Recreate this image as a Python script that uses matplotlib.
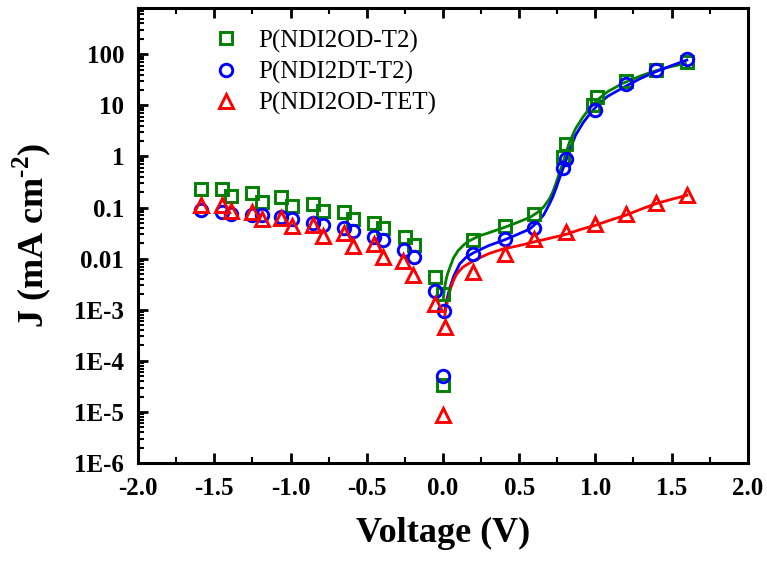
import matplotlib
matplotlib.use('Agg')
import matplotlib.pyplot as plt
from matplotlib.ticker import FixedLocator, NullFormatter, LogLocator

# measured points
v_t2 = [-1.59, -1.45, -1.39, -1.25, -1.19, -1.06, -0.99, -0.85, -0.79, -0.65, -0.59,
        -0.45, -0.39, -0.25, -0.19, -0.05, 0.0, 0.0, 0.2, 0.41, 0.60, 0.79, 0.81,
        0.985, 1.01, 1.2, 1.40, 1.6]
j_t2 = [0.23, 0.23, 0.17, 0.19, 0.13, 0.16, 0.107, 0.115, 0.085, 0.082, 0.06,
        0.05, 0.039, 0.026, 0.0186, 0.0043, 0.002, 3.4e-5, 0.0227, 0.043, 0.076, 0.99, 1.76,
        10.3, 14.7, 29.7, 50, 70]

v_dt = [-1.59, -1.45, -1.39, -1.25, -1.19, -1.06, -0.99, -0.85, -0.785, -0.65, -0.59,
        -0.45, -0.39, -0.255, -0.19, -0.05, 0.007, 0.0, 0.2, 0.41, 0.60, 0.79, 0.81,
        1.0, 1.2, 1.40, 1.6]
j_dt = [0.089, 0.081, 0.076, 0.071, 0.071, 0.065, 0.059, 0.050, 0.045, 0.039, 0.034,
        0.027, 0.023, 0.0148, 0.0107, 0.0023, 0.00095, 5.1e-5, 0.0124, 0.0245, 0.040, 0.59, 0.88,
        8.2, 25.6, 49, 79]

v_tet = [-1.59, -1.45, -1.39, -1.25, -1.19, -1.06, -0.99, -0.85, -0.79, -0.65, -0.59,
         -0.45, -0.39, -0.26, -0.195, -0.05, 0.013, 0.0, 0.2, 0.41, 0.60, 0.81,
         1.0, 1.2, 1.4, 1.6]
j_tet = [0.11, 0.11, 0.085, 0.082, 0.060, 0.063, 0.043, 0.046, 0.028, 0.032, 0.018,
         0.019, 0.011, 0.0091, 0.0047, 0.0013, 4.6e-4, 8.7e-6, 0.0054, 0.0123, 0.0245, 0.033,
         0.048, 0.074, 0.12, 0.174]

# fitted curves
fv_t2 = [0.003, 0.01, 0.02, 0.03, 0.046, 0.07, 0.10, 0.14, 0.177, 0.24, 0.30, 0.395, 0.48,
         0.57, 0.62, 0.66, 0.70, 0.72, 0.74, 0.76, 0.78, 0.80, 0.83, 0.87, 0.92, 0.97, 1.02,
         1.08, 1.18, 1.29, 1.38, 1.47, 1.59]
fj_t2 = [0.0017, 0.0026, 0.0038, 0.005, 0.0068, 0.0105, 0.0144, 0.019, 0.0227, 0.028, 0.032,
         0.040, 0.050, 0.064, 0.08, 0.102, 0.15, 0.20, 0.29, 0.44, 0.65, 1.0, 1.9, 3.5, 6.0,
         9.3, 13.3, 18.5, 27, 37, 46, 55, 66]

fv_dt = [0.013, 0.02, 0.03, 0.046, 0.07, 0.11, 0.15, 0.2, 0.3, 0.395, 0.48, 0.57, 0.62,
         0.66, 0.70, 0.72, 0.74, 0.76, 0.78, 0.80, 0.83, 0.87, 0.92, 0.97, 1.02, 1.08,
         1.2, 1.3, 1.4, 1.5, 1.6]
fj_dt = [0.00095, 0.0013, 0.0018, 0.0027, 0.0045, 0.0079, 0.0105, 0.013, 0.018, 0.0227,
         0.029, 0.038, 0.052, 0.071, 0.12, 0.16, 0.23, 0.34, 0.50, 0.72, 1.3, 2.6, 4.6, 7.2,
         10.5, 15, 23.8, 34, 46, 60, 77]

fv_tet = [0.013, 0.02, 0.035, 0.05, 0.07, 0.09, 0.13, 0.2, 0.3, 0.395, 0.5, 0.59, 0.7,
          0.81, 0.9, 1.0, 1.1, 1.2, 1.3, 1.4, 1.5, 1.6]
fj_tet = [0.0008, 0.0011, 0.0017, 0.0026, 0.0038, 0.005, 0.0068, 0.0091, 0.0125, 0.0155,
          0.018, 0.021, 0.025, 0.030, 0.037, 0.045, 0.057, 0.071, 0.093, 0.12, 0.145, 0.174]

labels = ['P(NDI2OD-T2)', 'P(NDI2DT-T2)', 'P(NDI2OD-TET)']
colors = ['#008000', '#0000ff', '#ff0000']

plt.rcParams['font.family'] = ['Liberation Serif', 'DejaVu Serif']
plt.rcParams['mathtext.fontset'] = 'custom'
plt.rcParams['mathtext.rm'] = 'Liberation Serif:bold'
plt.rcParams['mathtext.bf'] = 'Liberation Serif:bold'

fig = plt.figure(figsize=(7.67, 5.63), dpi=100)
ax = fig.add_axes([0.18, 0.1776, 0.795, 0.808])

ax.plot(fv_t2, fj_t2, color=colors[0], lw=2.0)
ax.plot(fv_dt, fj_dt, color=colors[1], lw=2.0)
ax.plot(fv_tet, fj_tet, color=colors[2], lw=2.0)

ax.plot(v_t2, j_t2, 's', ms=8.5, mfc='none', mec=colors[0], mew=2.1, ls='none', label=labels[0])
ax.plot(v_dt, j_dt, 'o', ms=9, mfc='none', mec=colors[1], mew=2.1, ls='none', label=labels[1])
ax.plot(v_tet, j_tet, '^', ms=10, mfc='none', mec=colors[2], mew=2.1, ls='none', label=labels[2])

ax.set_yscale('log')
ax.set_xlim(-2.0, 2.0)
ax.set_ylim(1e-6, 800)

ax.set_xticks([-2.0, -1.5, -1.0, -0.5, 0.0, 0.5, 1.0, 1.5, 2.0])
ax.set_xticklabels(['-2.0', '-1.5', '-1.0', '-0.5', '0.0', '0.5', '1.0', '1.5', '2.0'])
ax.xaxis.set_minor_locator(FixedLocator([-1.75, -1.25, -0.75, -0.25, 0.25, 0.75, 1.25, 1.75]))
ax.set_yticks([1e-6, 1e-5, 1e-4, 1e-3, 1e-2, 1e-1, 1, 10, 100])
ax.set_yticklabels(['1E-6', '1E-5', '1E-4', '1E-3', '0.01', '0.1', '1', '10', '100'])
ax.yaxis.set_minor_locator(LogLocator(base=10, subs=range(2, 10), numticks=20))
ax.yaxis.set_minor_formatter(NullFormatter())

ax.tick_params(which='major', direction='in', length=7, width=2, top=True, right=False,
               labelsize=18, pad=10)
ax.tick_params(which='minor', direction='in', length=4, width=1.5, top=True, right=False)
for lab in ax.get_xticklabels() + ax.get_yticklabels():
    lab.set_fontweight('bold')
for sp in ax.spines.values():
    sp.set_linewidth(2.2)

ax.set_xlabel('Voltage (V)', fontsize=26, fontweight='bold', labelpad=12)
ax.set_ylabel(r'J (mA cm$^{\text{-2}}$)', fontsize=26, fontweight='bold', labelpad=15)

ax.legend(loc='upper left', bbox_to_anchor=(0.124, 0.953), frameon=False, fontsize=18,
          handlelength=1.0, handletextpad=0.78, borderpad=0, borderaxespad=0,
          labelspacing=0.32)

fig.savefig('out.png', dpi=100)
